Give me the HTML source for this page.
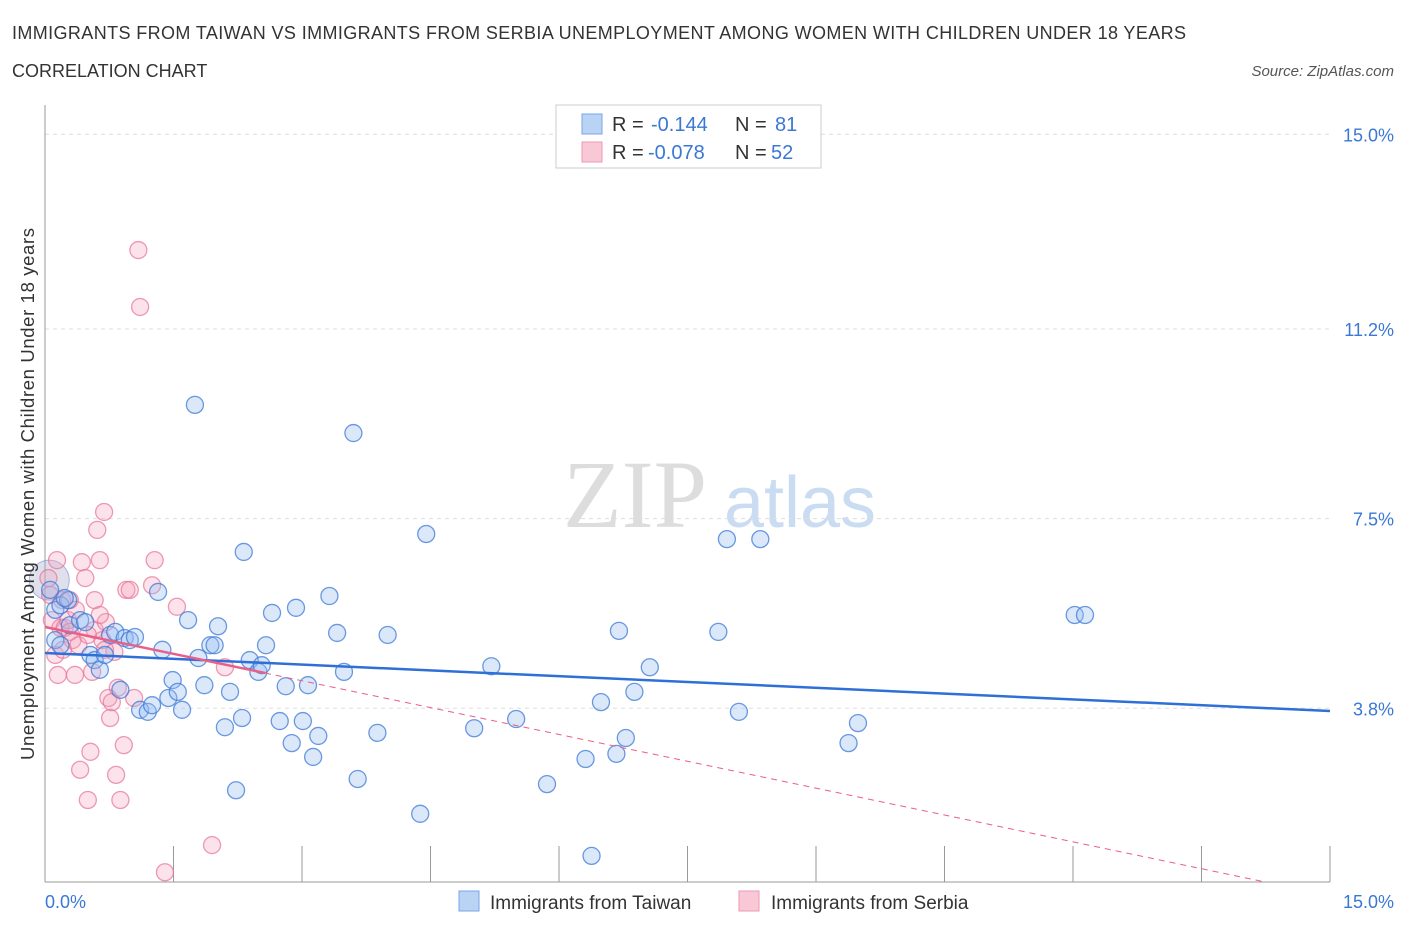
<!DOCTYPE html>
<html><head><meta charset="utf-8"><style>
body{margin:0;background:#fff;font-family:"Liberation Sans",sans-serif;}
</style></head><body>
<svg width="1406" height="930" xmlns="http://www.w3.org/2000/svg" font-family="Liberation Sans, sans-serif">
<text x="12" y="39" font-size="18" fill="#333" textLength="1174">IMMIGRANTS FROM TAIWAN VS IMMIGRANTS FROM SERBIA UNEMPLOYMENT AMONG WOMEN WITH CHILDREN UNDER 18 YEARS</text>
<text x="12" y="77" font-size="18" fill="#333">CORRELATION CHART</text>
<text x="1394" y="76" font-size="15" fill="#555" font-style="italic" text-anchor="end">Source: ZipAtlas.com</text>
<text x="635" y="527" font-size="96" fill="#ddd" font-family="Liberation Serif, serif" text-anchor="middle">ZIP</text>
<text x="800" y="527" font-size="72" fill="#c9dcf2" text-anchor="middle">atlas</text>
<g id="grid"></g>
<g id="marks"></g>
<text transform="translate(34,494) rotate(-90)" font-size="18.5" fill="#333" text-anchor="middle" textLength="532">Unemployment Among Women with Children Under 18 years</text>
<text x="45" y="908" font-size="18" fill="#3a78d4">0.0%</text>
<text x="1394" y="908" font-size="18" fill="#3a78d4" text-anchor="end">15.0%</text>
<g>
<rect x="556" y="105" width="265" height="63" fill="#fff" stroke="#ccc"/>
<rect x="582" y="114" width="20" height="20" fill="#b9d3f5" stroke="#7aa6e6"/>
<rect x="582" y="142" width="20" height="20" fill="#f9c8d6" stroke="#ec9ab3"/>
<text x="612" y="131" font-size="20" fill="#333">R =</text>
<text x="651" y="131" font-size="20" fill="#3a78d4">-0.144</text>
<text x="735" y="131" font-size="20" fill="#333">N =</text>
<text x="775" y="131" font-size="20" fill="#3a78d4">81</text>
<text x="612" y="159" font-size="20" fill="#333">R =</text>
<text x="648" y="159" font-size="20" fill="#3a78d4">-0.078</text>
<text x="735" y="159" font-size="20" fill="#333">N =</text>
<text x="771" y="159" font-size="20" fill="#3a78d4">52</text>
</g>
<g>
<rect x="459" y="891" width="20" height="20" fill="#b9d3f5" stroke="#7aa6e6"/>
<text x="490" y="909" font-size="19" fill="#333">Immigrants from Taiwan</text>
<rect x="739" y="891" width="20" height="20" fill="#f9c8d6" stroke="#ec9ab3"/>
<text x="771" y="909" font-size="19" fill="#333">Immigrants from Serbia</text>
</g>
</svg>
<script>
const yTicks=[15.0,11.2,7.5,3.8];
const yTickLabels=["15.0%","11.2%","7.5%","3.8%"];
const taiwanX=[0.06,0.12,0.18,0.27,0.23,0.12,0.18,0.29,0.41,0.47,0.53,0.58,0.64,0.70,0.76,0.82,0.88,0.93,0.99,1.05,1.11,1.20,1.25,1.32,1.37,1.44,1.49,1.55,1.60,1.67,1.75,1.79,1.86,1.93,1.98,2.02,2.10,2.16,2.23,2.30,2.32,2.39,2.49,2.53,2.58,2.65,2.74,2.81,2.88,2.93,3.01,3.07,3.13,3.19,3.32,3.41,3.49,3.60,3.65,3.88,4.00,4.38,4.45,5.01,5.21,5.50,5.86,6.31,6.38,6.49,6.67,6.70,6.78,6.88,7.06,7.86,7.96,8.10,8.35,9.38,9.49,12.02,12.14];
const taiwanY=[6.11,5.72,5.81,5.91,5.95,5.13,5.03,5.42,5.52,5.48,4.84,4.74,4.55,4.84,5.23,5.29,4.16,5.17,5.13,5.19,3.77,3.73,3.86,6.07,4.94,4.00,4.35,4.12,3.77,5.52,9.72,4.78,4.25,5.03,5.03,5.40,3.43,4.12,2.20,3.61,6.85,4.74,4.51,4.64,5.03,5.66,3.55,4.23,3.12,5.76,3.55,4.25,2.85,3.26,5.99,5.27,4.51,9.17,2.42,3.32,5.23,1.74,7.20,3.41,4.62,3.59,2.32,2.81,0.92,3.92,2.91,5.31,3.22,4.12,4.60,5.29,7.10,3.73,7.10,3.12,3.51,5.62,5.62];
const serbiaX=[0.04,0.06,0.08,0.12,0.14,0.15,0.18,0.21,0.23,0.27,0.29,0.32,0.35,0.39,0.41,0.43,0.47,0.50,0.53,0.55,0.58,0.61,0.64,0.67,0.69,0.71,0.74,0.76,0.78,0.81,0.83,0.85,0.88,0.92,0.95,0.99,1.04,1.09,1.11,1.25,1.28,1.40,1.54,1.95,2.10,0.50,0.58,0.64,0.20,0.29,0.70,0.36];
const serbiaY=[6.34,6.01,5.52,4.84,6.69,4.45,5.37,4.94,5.37,5.52,5.29,5.13,4.45,5.03,2.60,6.65,6.34,2.01,2.95,4.51,5.33,7.28,6.69,5.13,7.63,5.48,4.00,3.61,3.92,4.90,2.50,4.20,2.01,3.08,6.11,6.11,4.00,12.74,11.63,6.20,6.69,0.60,5.78,1.13,4.60,5.23,5.91,5.62,5.91,5.91,4.94,5.72];
const X0=45,X1=1330,Y0=903,PX=51.25;
function sx(v){return X0+v*(X1-X0)/15;}
function sy(v){return Y0-v*PX;}
const NS="http://www.w3.org/2000/svg";
function mk(t,a,p){const e=document.createElementNS(NS,t);for(const k in a)e.setAttribute(k,a[k]);p.appendChild(e);return e;}
const grid=document.getElementById('grid'),marks=document.getElementById('marks');
yTicks.forEach((v,i)=>{
 const l=mk('line',{x1:45,x2:1330,y1:sy(v),y2:sy(v),stroke:'#ddd','stroke-dasharray':'4,4'},grid);
 
 
 const t=mk('text',{x:1394,y:sy(v)+7,'font-size':18,fill:'#3a78d4','text-anchor':'end'},grid);
 t.textContent=yTickLabels[i];
 
 
});
const ax=mk('line',{x1:45,x2:1330,y1:882,y2:882,stroke:'#999'},grid);


const ay=mk('line',{x1:45,x2:45,y1:105,y2:882,stroke:'#999'},grid);


for(let i=1;i<=10;i++){const x=45+i*128.5;const t=mk('line',{x1:x,x2:x,y1:846,y2:882,stroke:'#999'},grid);
 
 }
const big=mk('circle',{cx:sx(0.05),cy:sy(6.3),r:20,fill:'rgba(160,170,200,0.35)',stroke:'rgba(100,120,200,0.5)'},marks);


serbiaX.forEach((x,i)=>{const c=mk('circle',{cx:sx(x),cy:sy(serbiaY[i]),r:8.5,fill:'rgba(244,160,185,0.3)',stroke:'rgba(232,120,155,0.75)','stroke-width':1.3},marks);
 
 });
taiwanX.forEach((x,i)=>{const c=mk('circle',{cx:sx(x),cy:sy(taiwanY[i]),r:8.5,fill:'rgba(150,190,240,0.35)',stroke:'rgba(60,120,215,0.75)','stroke-width':1.3},marks);
 
 });
const tb=mk('line',{x1:sx(0),y1:653,x2:sx(15),y2:711,stroke:'#2f6fd8','stroke-width':2.5},marks);


const tp=mk('line',{x1:sx(0),y1:627,x2:265,y2:673,stroke:'#e8608a','stroke-width':2.5},marks);


const tpd=mk('line',{x1:265,y1:673,x2:1265,y2:882,stroke:'#e8608a','stroke-width':1,'stroke-dasharray':'6,5'},marks);


</script>
</body></html>
